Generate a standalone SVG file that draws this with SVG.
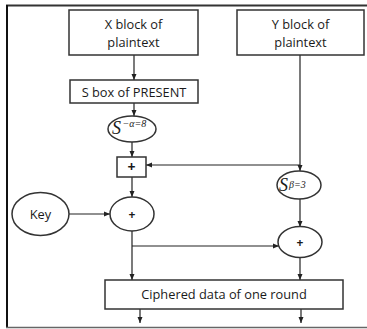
<svg xmlns="http://www.w3.org/2000/svg" width="367" height="329" viewBox="0 0 367 329">
<style>
.box{fill:#fff;stroke:#333;stroke-width:1.5}
.lbl{font-family:"Open Sans","Liberation Sans",sans-serif;font-size:12.8px;fill:#1a1a1a;text-anchor:middle}
.plus{font-family:"Open Sans","Liberation Sans",sans-serif;font-weight:bold;fill:#1a1a1a;text-anchor:middle}
.math{font-family:"Liberation Serif","DejaVu Serif",serif;font-style:italic;fill:#1a1a1a}
.con{fill:none;stroke:#222;stroke-width:1.2}
</style>
<defs>
<marker id="ah" markerUnits="userSpaceOnUse" markerWidth="6" markerHeight="6" viewBox="0 0 6 6" refX="6" refY="3" orient="auto">
<path d="M0 0.5 L6 3 L0 5.5 Z" fill="#222"/>
</marker>
</defs>
<rect width="367" height="329" fill="#fff"/>
<g id="frame" fill="none">
<line x1="6" y1="5.5" x2="367" y2="5.5" stroke="#333" stroke-width="2"/>
<line x1="7" y1="5" x2="7" y2="328" stroke="#111" stroke-width="2"/>
<line x1="6" y1="327.5" x2="367" y2="327.5" stroke="#666" stroke-width="1.5"/>
</g>
<g id="connectors" class="con">
<path class="con" d="M134 55 V80" marker-end="url(#ah)"/>
<path class="con" d="M134 103 V116" marker-end="url(#ah)"/>
<path class="con" d="M132 142 V157" marker-end="url(#ah)"/>
<path class="con" d="M300 55 V171" marker-end="url(#ah)"/>
<path class="con" d="M300 165 H146" marker-end="url(#ah)"/>
<path class="con" d="M132 177 V197" marker-end="url(#ah)"/>
<path class="con" d="M69 214 H110" marker-end="url(#ah)"/>
<path class="con" d="M132 231 V280" marker-end="url(#ah)"/>
<path class="con" d="M132 246 H279" marker-end="url(#ah)"/>
<path class="con" d="M300 199 V227" marker-end="url(#ah)"/>
<path class="con" d="M300 258 V280" marker-end="url(#ah)"/>
<path class="con" d="M140 309 V323" marker-end="url(#ah)"/>
<path class="con" d="M301 309 V323" marker-end="url(#ah)"/>
</g>
<g id="xblock">
<rect class="box" x="69" y="10" width="129" height="45"/>
<text class="lbl" x="133.5" y="29">X block of</text>
<text class="lbl" x="133.5" y="47">plaintext</text>
</g>
<g id="yblock">
<rect class="box" x="237" y="10" width="127" height="45"/>
<text class="lbl" x="300.5" y="29">Y block of</text>
<text class="lbl" x="300.5" y="47">plaintext</text>
</g>
<g id="sbox">
<rect class="box" x="70" y="80" width="128" height="23"/>
<text class="lbl" x="134" y="96.5">S box of PRESENT</text>
</g>
<g id="salpha">
<ellipse class="box" cx="132" cy="129" rx="24" ry="13"/>
<text class="math" x="112" y="134" font-size="18">S</text>
<text class="math" x="122.5" y="127" font-size="10">−α=8</text>
</g>
<g id="xor1">
<rect class="box" x="117" y="157" width="29" height="20"/>
<text class="plus" x="131.5" y="172" font-size="14">+</text>
</g>
<g id="sbeta">
<ellipse class="box" cx="299" cy="185" rx="22" ry="14"/>
<text class="math" x="279" y="191" font-size="18">S</text>
<text class="math" x="289" y="187.5" font-size="10">β=3</text>
</g>
<g id="key">
<ellipse class="box" cx="40.5" cy="214" rx="28.5" ry="21.5"/>
<text class="lbl" x="40.5" y="218.5">Key</text>
</g>
<g id="plus1">
<ellipse class="box" cx="132" cy="214" rx="22" ry="17"/>
<text class="plus" x="132" y="218.5" font-size="12">+</text>
</g>
<g id="plus2">
<ellipse class="box" cx="300" cy="242" rx="22" ry="15.5"/>
<text class="plus" x="300" y="246.5" font-size="12">+</text>
</g>
<g id="cipher">
<rect class="box" x="105" y="280" width="238" height="29"/>
<text class="lbl" x="224" y="299">Ciphered data of one round</text>
</g>
</svg>
